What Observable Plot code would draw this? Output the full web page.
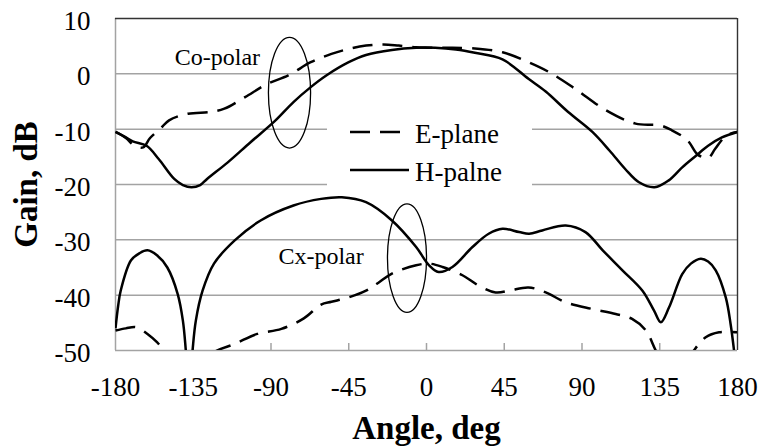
<!DOCTYPE html>
<html>
<head>
<meta charset="utf-8">
<script src="https://cdn.jsdelivr.net/npm/d3@7"></script>
<script src="https://cdn.jsdelivr.net/npm/@observablehq/plot@0.6"></script>
<style>
  body { margin: 0; background: #fff; }
  #chart { width: 759px; height: 447px; }
</style>
</head>
<body>
<div id="chart"></div>
<script>
// Radiation pattern: co- and cross-polar gain (dB) versus angle (deg)
const angleTicks = [-180, -135, -90, -45, 0, 45, 90, 135, 180];
const innerTicks = [-135, -90, -45, 0, 45, 90, 135];
const gainTicks = [10, 0, -10, -20, -30, -40, -50];
const gridGains = [0, -10, -20, -30, -40];

// Co-polar, H-plane (solid)
const coHAngle = [-180,-175,-170,-162,-155,-146,-141,-136,-131,-127,-115,-102,-88,-77,-67,-58,-45,-35,-20,-6,5,17,28,44,59,69,82,96,106,115,123,132,140,148,156,163,171,180];
const coHGain  = [-10.5,-11.3,-12.2,-13.0,-15.4,-19.0,-20.1,-20.5,-20.1,-19.0,-16.0,-12.4,-8.6,-5.1,-2.4,-0.3,2.1,3.4,4.3,4.7,4.7,4.4,3.8,2.6,-0.9,-3.2,-6.9,-10.5,-13.9,-17.2,-19.6,-20.5,-19.3,-16.9,-14.8,-13.0,-11.5,-10.5];

// Co-polar, E-plane (dashed)
const coEAngle = [-180,-174,-169,-164,-160,-154,-149,-138,-125,-117,-105,-92,-80,-67,-55,-45,-35,-25,-16,-6,5,15,28,44,59,71,86,104,121,135,142,151,157,163,167,172,176,180];
const coEGain  = [-10.5,-11.6,-13.0,-13.3,-11.6,-9.9,-8.4,-7.2,-6.9,-6.3,-4.2,-1.8,-0.3,2.1,3.6,4.5,5.1,5.3,5.1,4.8,4.7,4.7,4.6,3.9,2.1,0.3,-2.7,-6.6,-9.0,-9.3,-10.2,-12.0,-14.6,-15.2,-13.6,-11.6,-10.8,-10.5];

// Cross-polar, H-plane (solid)
const cxHAngle = [-180,-178.5,-177,-171,-166,-161.5,-156,-150,-144,-141,-139.3,-137.4,-135.4,-133.5,-129.6,-123,-111,-96,-77,-61,-49,-35,-20,-6,1.5,7,15,26.6,36,44,53.6,59.4,67,80.6,92,102,113.4,125,131.7,135.6,140.4,148,153,158.7,163,167.4,173.2,176,178,180];
const cxHGain  = [-46,-42,-39.2,-33.7,-32.4,-31.9,-32.8,-35,-39.8,-44.6,-50,-58,-50,-44.6,-39.2,-34.3,-30.1,-26.5,-23.8,-22.6,-22.3,-23.2,-26.5,-31.3,-34.6,-35.8,-34.9,-31.3,-28.9,-28,-28.6,-28.9,-28.3,-27.4,-28.6,-31.9,-35.5,-39.2,-42.8,-44.9,-42.2,-36.2,-34.3,-33.4,-33.9,-35.5,-40.4,-45.2,-50,-56];

// Cross-polar, E-plane (dashed)
const cxEAngle = [-180,-174,-168,-161.5,-156,-152,-145,-135,-123,-111,-98,-84,-71,-61,-55,-45,-35,-28,-20,-6,1.5,9.3,20.8,30.4,40,47.8,59,69,80.6,96,109.5,119,127,132.7,140,148,154,161.6,169.3,180];
const cxEGain  = [-46.4,-46,-45.8,-47,-48.5,-50,-52.5,-53.5,-50.3,-48.8,-47,-46.1,-44.2,-41.7,-41.2,-40.4,-39.2,-37.8,-36.1,-34.6,-34.3,-34.9,-36.4,-38.3,-39.5,-39.2,-38.6,-39.5,-41.3,-42.5,-43.4,-44.3,-46.4,-50,-54,-53,-50.3,-47.6,-46.7,-46.7];

// Callouts: label text and anchor (deg, dB); ellipse centre and radii (deg, dB)
const calloutText = ["Co-polar", "Cx-polar"];
const calloutAngle = [-121, -61];
const calloutGain = [3.0, -33.0];
const ellipseAngle = [-79, -11];
const ellipseGain = [-3.5, -33.4];
const ellipseRadiusAngle = [12.2, 11.3];
const ellipseRadiusGain = [10.0, 9.8];

const legendLabels = ["E-plane", "H-palne"];

const series = (angles, gains) => angles.map((a, i) => ({angle: a, gain: gains[i]}));
const callouts = calloutText.map((t, i) => ({text: t, angle: calloutAngle[i], gain: calloutGain[i]}));

const grey = "#a3a3a3";
const dash = "20,10";
const lineOpts = {x: "angle", y: "gain", stroke: "#000", strokeWidth: 2.5, curve: "catmull-rom", clip: true, strokeLinecap: "butt"};

const chart = Plot.plot({
  width: 759,
  height: 447,
  marginLeft: 115,
  marginRight: 22,
  marginTop: 18,
  marginBottom: 97,
  style: {fontFamily: "'Liberation Serif', 'Times New Roman', serif", fontSize: "27px", color: "#000", background: "#fff"},
  x: {domain: [-180, 180]},
  y: {domain: [-50, 10]},
  marks: [
    Plot.ruleY(gridGains, {stroke: grey, strokeWidth: 1.5}),
    Plot.ruleX([-180], {stroke: grey, strokeWidth: 1.5}),
    Plot.ruleY([-50], {stroke: grey, strokeWidth: 1.5}),
    Plot.ruleY([10], {stroke: "#333", strokeWidth: 1.4}),
    Plot.ruleX([180], {stroke: "#333", strokeWidth: 1.4}),
    Plot.axisX(innerTicks, {tickSize: 7, dy: -7, tickFormat: () => "", stroke: grey, strokeWidth: 1.5, label: null}),
    Plot.axisX(angleTicks, {tickSize: 0, tickPadding: 26, tickFormat: d => String(d), label: null}),
    Plot.axisY(gainTicks, {tickSize: 0, tickPadding: 25, dy: 3, tickFormat: d => String(d), label: null}),
    Plot.line(series(coHAngle, coHGain), lineOpts),
    Plot.line(series(coEAngle, coEGain), {...lineOpts, strokeDasharray: dash}),
    Plot.line(series(cxHAngle, cxHGain), lineOpts),
    Plot.line(series(cxEAngle, cxEGain), {...lineOpts, strokeDasharray: dash}),
    Plot.text(callouts, {x: "angle", y: "gain", text: "text", fontSize: 24}),
    Plot.text(["Angle, deg"], {text: d => d, frameAnchor: "bottom", lineAnchor: "middle", textAnchor: "middle", dy: 78, fontWeight: "bold", fontSize: 33}),
    Plot.text(["Gain, dB"], {text: d => d, frameAnchor: "left", lineAnchor: "middle", textAnchor: "middle", dx: -89, rotate: -90, fontWeight: "bold", fontSize: 33})
  ]
});

document.getElementById("chart").appendChild(chart);

const svg = d3.select(chart);
const xs = chart.scale("x");
const ys = chart.scale("y");

// Callout ellipses drawn through the plot's own scales
ellipseAngle.forEach((a, i) => {
  const cx = xs.apply(a), cy = ys.apply(ellipseGain[i]);
  svg.append("ellipse")
    .attr("cx", cx).attr("cy", cy)
    .attr("rx", xs.apply(a + ellipseRadiusAngle[i]) - cx)
    .attr("ry", ys.apply(ellipseGain[i] - ellipseRadiusGain[i]) - cy)
    .attr("fill", "none").attr("stroke", "#000").attr("stroke-width", 1.3);
});

// Legend box inside the plot area
const lg = svg.append("g").attr("transform", "translate(327,116)");
lg.append("rect").attr("width", 205).attr("height", 76).attr("fill", "#fff");
legendLabels.forEach((label, i) => {
  const y = 16 + i * 38;
  lg.append("line")
    .attr("x1", 23).attr("x2", 82).attr("y1", y).attr("y2", y)
    .attr("stroke", "#000").attr("stroke-width", 2.5)
    .attr("stroke-dasharray", i === 0 ? dash : null);
  lg.append("text")
    .attr("x", 88).attr("y", y + 11)
    .attr("text-anchor", "start")
    .attr("font-size", 27)
    .attr("fill", "#000")
    .text(label);
});
</script>
</body>
</html>
